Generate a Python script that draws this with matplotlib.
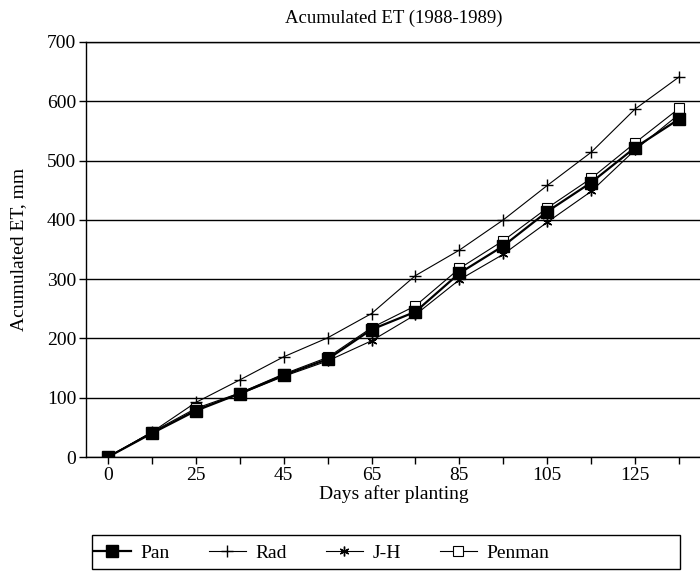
import numpy as np
import matplotlib
matplotlib.use("Agg")
import matplotlib.pyplot as plt
from matplotlib.patches import Rectangle

# data (days after planting, accumulated ET in mm)
days = [0, 12, 25, 35, 45, 55, 65, 75, 85, 95, 105, 115, 125, 135]
day_labels = ["0", "", "25", "", "45", "", "65", "", "85", "", "105", "", "125", ""]
pan = [0, 40, 78, 107, 138, 165, 215, 245, 310, 356, 414, 463, 522, 570]
rad = [0, 42, 92, 130, 169, 201, 242, 306, 349, 400, 458, 514, 587, 641]
jh = [0, 40, 80, 106, 136, 162, 196, 240, 299, 342, 396, 448, 518, 578]
penman = [0, 42, 82, 108, 140, 168, 218, 255, 318, 365, 420, 470, 530, 588]

plt.rcParams['font.family'] = ['Liberation Serif', 'DejaVu Serif']

fig = plt.figure(figsize=(7.0, 5.72), dpi=100)
ax = fig.add_axes([86/700, 1-457/572, 615/700, (457-42)/572])

x = np.arange(len(days))

ax.plot(x, rad, color='black', lw=0.8, marker='+', markersize=8, mew=1.0, label='Rad')
ax.plot(x, jh, color='black', lw=0.8, marker=(6, 2, 0), markersize=7, mew=1.0, label='J-H')
ax.plot(x, penman, color='black', lw=0.8, marker='s', markersize=7, mfc='white', mew=0.8, label='Penman')
ax.plot(x, pan, color='black', lw=1.6, marker='s', markersize=8, label='Pan')

ax.set_xlim(-0.5, 13.5)
ax.set_ylim(0, 700)
ax.set_xticks(x)
ax.set_xticklabels(day_labels)
ax.set_yticks(range(0, 701, 100))
ax.yaxis.grid(True, color='black', lw=1.0)
ax.set_axisbelow(True)
ax.spines['right'].set_visible(False)
for s in ['top', 'left', 'bottom']:
    ax.spines[s].set_linewidth(1.0)
ax.tick_params(axis='both', direction='out', length=5, width=1, labelsize=14, pad=2)

ax.set_title('Acumulated ET (1988-1989)', fontsize=13.5, pad=14)
ax.set_xlabel('Days after planting', fontsize=14, labelpad=1)
ax.set_ylabel('Acumulated ET, mm', fontsize=14, labelpad=14)

# legend box drawn separately so it can be wider than its entries
fig.add_artist(Rectangle((92/700, 3/572), 588/700, 34/572, transform=fig.transFigure,
                         fill=False, edgecolor='black', lw=1.0))
handles, labels = ax.get_legend_handles_labels()
order = [3, 0, 1, 2]
leg = fig.legend([handles[i] for i in order], [labels[i] for i in order],
                 loc='center left', bbox_to_anchor=(94/700, 19/572),
                 ncol=4, fontsize=14, frameon=False,
                 handlelength=1.9, handletextpad=0.5, columnspacing=2.0,
                 borderaxespad=0, borderpad=0)

fig.savefig('out.png', dpi=100)
